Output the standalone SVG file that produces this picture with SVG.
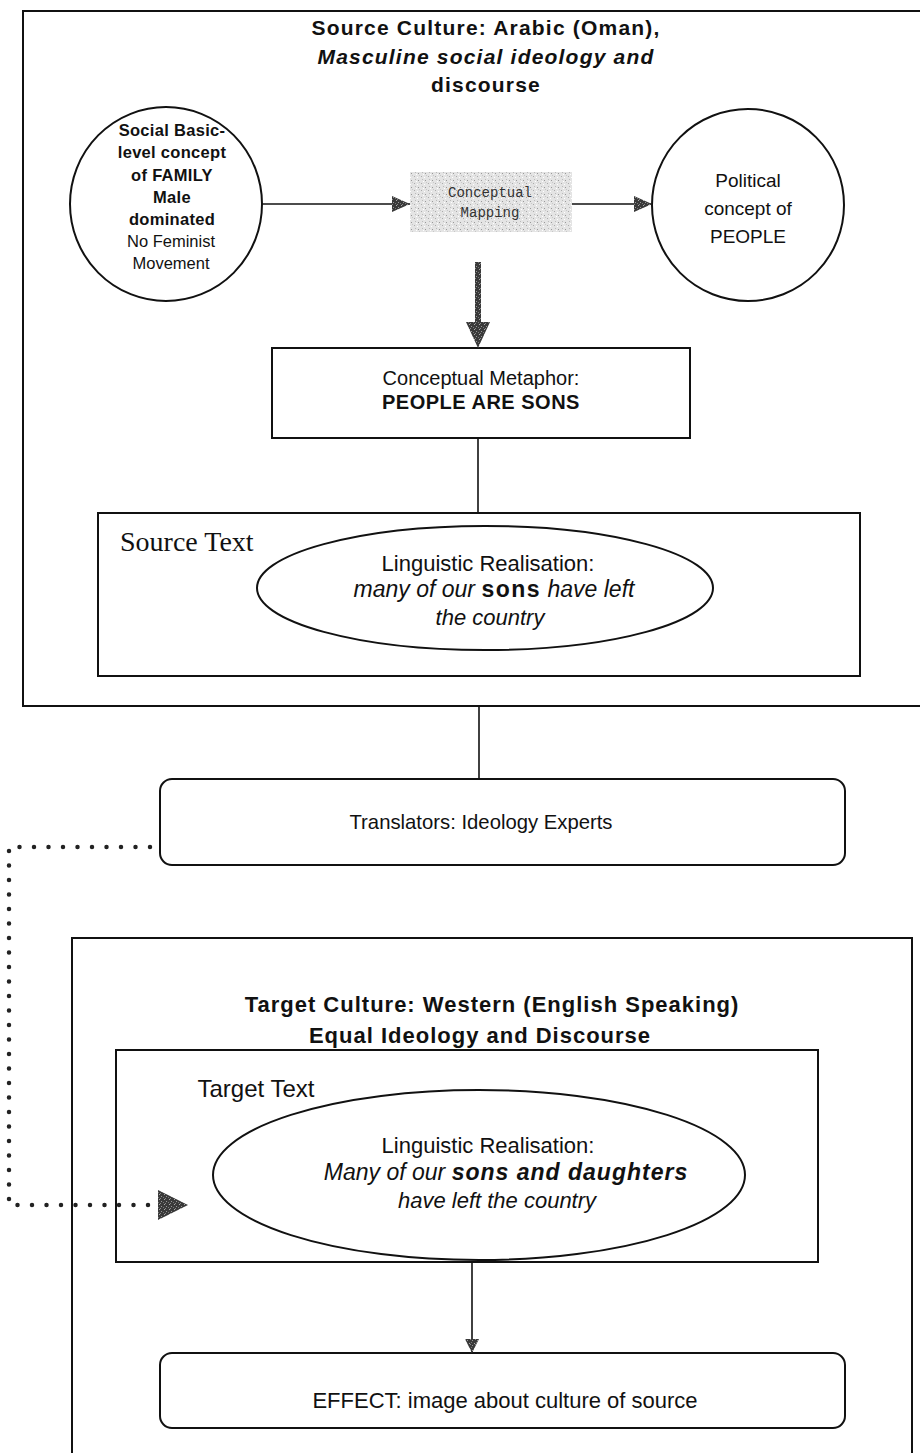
<svg xmlns="http://www.w3.org/2000/svg" width="920" height="1453" viewBox="0 0 920 1453">
  <style>
    .box { fill: none; stroke: #111; stroke-width: 2; }
    .wbox { fill: #fff; stroke: #111; stroke-width: 2; }
    .line { fill: none; stroke: #111; stroke-width: 1.6; }
    .dots { fill: none; stroke: #222; stroke-width: 4.5; stroke-linecap: round; stroke-dasharray: 0 14.5; }
    .t { font-family: "Liberation Sans", Arial, sans-serif; fill: #111; text-anchor: middle; }
    .b { font-weight: bold; }
    .i { font-style: italic; }
    .serif { font-family: "Liberation Serif", "Times New Roman", serif; fill: #111; }
    .mono { font-family: "Liberation Mono", "Courier New", monospace; fill: #333; text-anchor: middle; }
  </style>
  <defs>
    <pattern id="lightnoise" width="7" height="7" patternUnits="userSpaceOnUse">
      <rect width="7" height="7" fill="#e4e4e4"/>
      <rect x="1" y="1" width="1" height="1" fill="#aaa"/>
      <rect x="4" y="2" width="1" height="1" fill="#fff"/>
      <rect x="2" y="4" width="1" height="1" fill="#bbb"/>
      <rect x="5" y="5" width="1" height="1" fill="#999"/>
      <rect x="3" y="6" width="1" height="1" fill="#fff"/>
      <rect x="6" y="0" width="1" height="1" fill="#c8c8c8"/>
    </pattern>
    <pattern id="darknoise" width="5" height="5" patternUnits="userSpaceOnUse">
      <rect width="5" height="5" fill="#3a3a3a"/>
      <rect x="1" y="1" width="1" height="1" fill="#999"/>
      <rect x="3" y="2" width="1" height="1" fill="#777"/>
      <rect x="0" y="3" width="1" height="1" fill="#888"/>
      <rect x="4" y="4" width="1" height="1" fill="#aaa"/>
    </pattern>
    <marker id="arr" markerUnits="userSpaceOnUse" markerWidth="18" markerHeight="16" refX="18" refY="8" orient="auto">
      <path d="M0,0 L18,8 L0,16 z" fill="url(#darknoise)"/>
    </marker>
    <marker id="arrsmall" markerUnits="userSpaceOnUse" markerWidth="14" markerHeight="17" refX="14" refY="7" orient="auto">
      <path d="M0,0 L14,7 L0,14 z" fill="url(#darknoise)"/>
    </marker>
  </defs>

  <g id="source-culture">
    <rect class="box" x="23" y="11" width="910" height="695"/>
    <text class="t b" x="486" y="35" font-size="21" letter-spacing="1.2">Source Culture: Arabic (Oman),</text>
    <text class="t b i" x="486" y="64" font-size="21" letter-spacing="1.2">Masculine social ideology and</text>
    <text class="t b" x="486" y="92" font-size="21" letter-spacing="1.2">discourse</text>
  </g>

  <g id="family-concept">
    <ellipse class="box" cx="166" cy="204" rx="96" ry="97"/>
    <text class="t b" x="172" y="136" font-size="16.5" letter-spacing="0.3">Social Basic-</text>
    <text class="t b" x="172" y="158" font-size="16.5" letter-spacing="0.3">level concept</text>
    <text class="t b" x="172" y="181" font-size="16.5" letter-spacing="0.3">of FAMILY</text>
    <text class="t b" x="172" y="203" font-size="16.5" letter-spacing="0.3">Male</text>
    <text class="t b" x="172" y="225" font-size="16.5" letter-spacing="0.3">dominated</text>
    <text class="t" x="171" y="247" font-size="16.5">No Feminist</text>
    <text class="t" x="171" y="269" font-size="16.5">Movement</text>
  </g>

  <g id="conceptual-mapping">
    <rect x="410" y="172" width="162" height="60" fill="url(#lightnoise)"/>
    <text class="mono" x="490" y="197" font-size="14">Conceptual</text>
    <text class="mono" x="490" y="217" font-size="14">Mapping</text>
  </g>

  <g id="people-concept">
    <ellipse class="box" cx="748" cy="205" rx="96" ry="96"/>
    <text class="t" x="748" y="187" font-size="19">Political</text>
    <text class="t" x="748" y="215" font-size="19">concept of</text>
    <text class="t" x="748" y="243" font-size="19">PEOPLE</text>
  </g>

  <g id="conceptual-metaphor">
    <rect class="box" x="272" y="348" width="418" height="90"/>
    <text class="t" x="481" y="385" font-size="20">Conceptual Metaphor:</text>
    <text class="t b" x="481" y="409" font-size="20" letter-spacing="0.5">PEOPLE ARE SONS</text>
  </g>

  <g id="source-text">
    <rect class="box" x="98" y="513" width="762" height="163"/>
    <text class="serif" x="120" y="551" font-size="28">Source Text</text>
    <ellipse class="box" cx="485" cy="588" rx="228" ry="62"/>
    <text class="t" x="488" y="571" font-size="22">Linguistic Realisation:</text>
    <text class="t i" x="494" y="597" font-size="23">many of our <tspan class="b" font-style="normal" letter-spacing="1.5">sons</tspan> have left</text>
    <text class="t i" x="490" y="625" font-size="22">the country</text>
  </g>

  <g id="translators">
    <rect class="box" x="160" y="779" width="685" height="86" rx="12"/>
    <text class="t" x="481" y="829" font-size="20.3">Translators: Ideology Experts</text>
  </g>

  <g id="target-culture">
    <rect class="box" x="72" y="938" width="840" height="530"/>
    <text class="t b" x="492" y="1012" font-size="22" letter-spacing="1">Target Culture: Western (English Speaking)</text>
    <text class="t b" x="480" y="1043" font-size="22" letter-spacing="1">Equal Ideology and Discourse</text>
  </g>

  <g id="target-text">
    <rect class="box" x="116" y="1050" width="702" height="212"/>
    <text class="t" x="256" y="1097" font-size="24">Target Text</text>
    <ellipse class="box" cx="479" cy="1175" rx="266" ry="85"/>
    <text class="t" x="488" y="1153" font-size="22">Linguistic Realisation:</text>
    <text class="t i" x="506" y="1180" font-size="23">Many of our <tspan class="b" letter-spacing="1">sons and daughters</tspan></text>
    <text class="t i" x="497" y="1208" font-size="22">have left the country</text>
  </g>

  <g id="effect">
    <rect class="wbox" x="160" y="1353" width="685" height="75" rx="12"/>
    <text class="t" x="505" y="1408" font-size="22">EFFECT: image about culture of source</text>
  </g>

  <g id="connectors">
    <line class="line" x1="262" y1="204" x2="410" y2="204" marker-end="url(#arr)"/>
    <line class="line" x1="572" y1="204" x2="652" y2="204" marker-end="url(#arr)"/>
    <polygon points="475,262 481,262 481,322 490,322 478,348 466,322 475,322" fill="url(#darknoise)"/>
    <line class="line" x1="478" y1="438" x2="478" y2="513"/>
    <line class="line" x1="479" y1="706" x2="479" y2="779"/>
    <path class="dots" d="M150,847 H9 V1205 H150"/>
    <polygon points="158,1190 188,1205 158,1220" fill="url(#darknoise)"/>
    <line class="line" x1="472" y1="1262" x2="472" y2="1353" marker-end="url(#arrsmall)"/>
  </g>
</svg>
